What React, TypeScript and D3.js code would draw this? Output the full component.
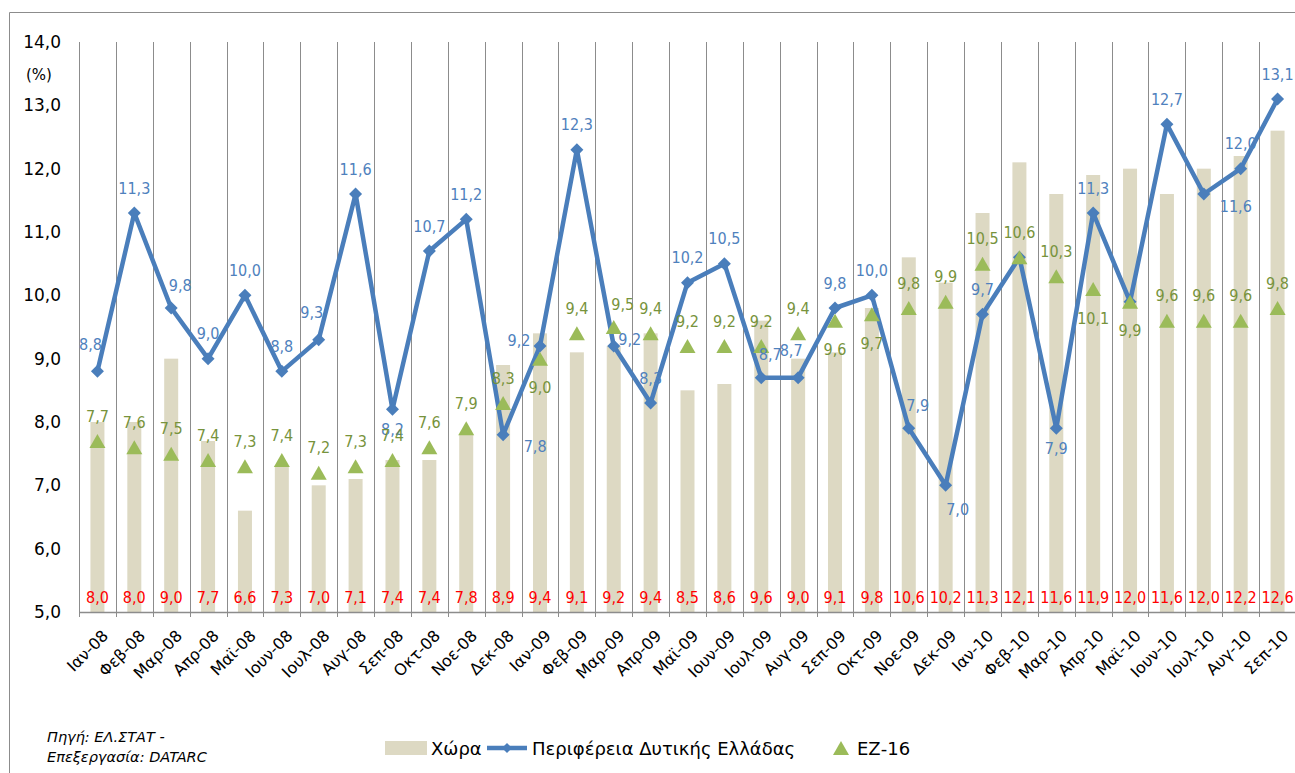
import React from "react";
import * as d3 from "d3";

const months = [
  "Ιαν-08", "Φεβ-08", "Μαρ-08", "Απρ-08", "Μαϊ-08", "Ιουν-08", "Ιουλ-08", "Αυγ-08", "Σεπ-08", "Οκτ-08", "Νοε-08", "Δεκ-08",
  "Ιαν-09", "Φεβ-09", "Μαρ-09", "Απρ-09", "Μαϊ-09", "Ιουν-09", "Ιουλ-09", "Αυγ-09", "Σεπ-09", "Οκτ-09", "Νοε-09", "Δεκ-09",
  "Ιαν-10", "Φεβ-10", "Μαρ-10", "Απρ-10", "Μαϊ-10", "Ιουν-10", "Ιουλ-10", "Αυγ-10", "Σεπ-10",
];

// Χώρα (bars)
const countryValues = [
  8.0, 8.0, 9.0, 7.7, 6.6, 7.3, 7.0, 7.1, 7.4, 7.4, 7.8, 8.9,
  9.4, 9.1, 9.2, 9.4, 8.5, 8.6, 9.6, 9.0, 9.1, 9.8, 10.6, 10.2,
  11.3, 12.1, 11.6, 11.9, 12.0, 11.6, 12.0, 12.2, 12.6,
];

// Περιφέρεια Δυτικής Ελλάδας (line)
const regionValues = [
  8.8, 11.3, 9.8, 9.0, 10.0, 8.8, 9.3, 11.6, 8.2, 10.7, 11.2, 7.8,
  9.2, 12.3, 9.2, 8.3, 10.2, 10.5, 8.7, 8.7, 9.8, 10.0, 7.9, 7.0,
  9.7, 10.6, 7.9, 11.3, 9.9, 12.7, 11.6, 12.0, 13.1,
];

// ΕΖ-16 (triangles)
const ez16Values = [
  7.7, 7.6, 7.5, 7.4, 7.3, 7.4, 7.2, 7.3, 7.4, 7.6, 7.9, 8.3,
  9.0, 9.4, 9.5, 9.4, 9.2, 9.2, 9.2, 9.4, 9.6, 9.7, 9.8, 9.9,
  10.5, 10.6, 10.3, 10.1, 9.9, 9.6, 9.6, 9.6, 9.8,
];

const yTicks = [5, 6, 7, 8, 9, 10, 11, 12, 13, 14];

// label placement codes
const regionLabelPos = [
  "tl", "t", "tr", "t", "t", "t", "tl", "t", "b", "t", "t", "rb",
  "l", "t", "r", "t", "t", "t", "tr", "tl", "t", "t", "tr", "br",
  "t", "", "b", "t", "", "t", "rb", "t", "t",
];
const ez16LabelPos = [
  "t", "t", "t", "t", "t", "t", "t", "t", "t", "t", "t", "t",
  "bb", "t", "tr", "t", "t", "t", "t", "t", "bb", "bb", "t", "t",
  "t", "t", "t", "bb", "bb", "t", "t", "t", "t",
];

const offsets: Record<string, [number, number]> = {
  t: [0, -25],
  b: [0, 20],
  bb: [0, 29],
  tl: [-7, -27],
  tr: [9, -23],
  l: [-21, -6],
  r: [16, -7],
  br: [12, 24],
  rb: [32, 12],
};

const W = 1295;
const H = 773;
const labelFont = "'DejaVu Sans Condensed', 'DejaVu Sans', sans-serif";
const axisFont = "'DejaVu Sans', Verdana, sans-serif";

const fmt = (v: number) => v.toFixed(1).replace(".", ",");

export default function App() {
  const x = d3.scaleBand<string>().domain(months).range([79, 1296]).padding(0);
  const y = d3.scaleLinear().domain([5, 14]).range([612, 42]);
  const bw = x.bandwidth();
  const cx = (i: number) => (x(months[i]) as number) + bw / 2;
  const barW = 14;

  const line = d3
    .line<number>()
    .x((_, i) => cx(i))
    .y((d) => y(d));

  const diamond = (s: number) => `M0,${-s}L${s},0L0,${s}L${-s},0Z`;
  const triangle = "M0,-7L8,7L-8,7Z";

  const boundaries = months.map((m) => x(m) as number).concat([1296]);

  return (
    <svg
      width={W}
      height={H}
      style={{ position: "absolute", left: 0, top: 0, background: "#fff" }}
    >
      {/* frame */}
      <line x1={9.5} y1={12.5} x2={W} y2={12.5} stroke="#8c8c8c" strokeWidth={1} />
      <line x1={9.5} y1={12.5} x2={9.5} y2={H} stroke="#8c8c8c" strokeWidth={1} />

      {/* vertical gridlines */}
      {boundaries.map((b, i) => (
        <line
          key={"g" + i}
          x1={Math.round(b) + 0.5}
          x2={Math.round(b) + 0.5}
          y1={y(14)}
          y2={y(5) + 5}
          stroke="#8c8c8c"
          strokeWidth={1}
        />
      ))}

      {/* bars */}
      {countryValues.map((v, i) => (
        <rect
          key={"b" + i}
          x={cx(i) - barW / 2}
          y={y(v)}
          width={barW}
          height={y(5) - y(v)}
          fill="#ddd9c3"
        />
      ))}

      {/* x axis */}
      <line x1={79} x2={1296} y1={y(5) + 0.5} y2={y(5) + 0.5} stroke="#8c8c8c" strokeWidth={1.5} />

      {/* y tick labels */}
      {yTicks.map((t) => (
        <text
          key={"y" + t}
          x={61}
          y={y(t)}
          textAnchor="end"
          dominantBaseline="central"
          fontFamily={axisFont}
          fontSize={17}
          fill="#000"
        >
          {fmt(t)}
        </text>
      ))}
      <text x={39} y={75} textAnchor="middle" dominantBaseline="central" fontFamily={axisFont} fontSize={15} fill="#000">
        (%)
      </text>

      {/* x tick labels */}
      {months.map((m, i) => (
        <text
          key={"x" + i}
          transform={`translate(${cx(i) + 8},${y(5) + 21}) rotate(-45)`}
          textAnchor="end"
          dominantBaseline="central"
          fontFamily={axisFont}
          fontSize={16}
          fill="#000"
        >
          {m}
        </text>
      ))}

      {/* bar value labels */}
      {countryValues.map((v, i) => (
        <text
          key={"bl" + i}
          x={cx(i)}
          y={597}
          textAnchor="middle"
          dominantBaseline="central"
          fontFamily={labelFont}
          fontSize={16}
          fill="#ff0000"
        >
          {fmt(v)}
        </text>
      ))}

      {/* line */}
      <path d={line(regionValues) || ""} fill="none" stroke="#4a7ebb" strokeWidth={4.5} strokeLinejoin="round" />
      {regionValues.map((v, i) => (
        <path key={"d" + i} d={diamond(6.5)} transform={`translate(${cx(i)},${y(v)})`} fill="#4a7ebb" />
      ))}

      {/* triangles */}
      {ez16Values.map((v, i) => (
        <path key={"t" + i} d={triangle} transform={`translate(${cx(i)},${y(v)})`} fill="#9bbb59" />
      ))}

      {/* region labels */}
      {regionValues.map((v, i) => {
        const code = regionLabelPos[i];
        if (!code) return null;
        const [dx, dy] = offsets[code];
        return (
          <text
            key={"rl" + i}
            x={cx(i) + dx}
            y={y(v) + dy}
            textAnchor="middle"
            dominantBaseline="central"
            fontFamily={labelFont}
            fontSize={16}
            fill="#4f81bd"
          >
            {fmt(v)}
          </text>
        );
      })}

      {/* ez16 labels */}
      {ez16Values.map((v, i) => {
        const code = ez16LabelPos[i];
        if (!code) return null;
        const [dx, dy] = offsets[code];
        return (
          <text
            key={"el" + i}
            x={cx(i) + dx}
            y={y(v) + dy}
            textAnchor="middle"
            dominantBaseline="central"
            fontFamily={labelFont}
            fontSize={16}
            fill="#77933c"
          >
            {fmt(v)}
          </text>
        );
      })}

      {/* source */}
      <text x={47} y={737} dominantBaseline="central" fontFamily={axisFont} fontStyle="italic" fontSize={14.5} fill="#000">
        Πηγή: ΕΛ.ΣΤΑΤ -
      </text>
      <text x={47} y={757} dominantBaseline="central" fontFamily={axisFont} fontStyle="italic" fontSize={14.5} fill="#000">
        Επεξεργασία: DATARC
      </text>

      {/* legend */}
      <rect x={385} y={741} width={42} height={14} fill="#ddd9c3" />
      <text x={431} y={748} dominantBaseline="central" fontFamily={axisFont} fontSize={18} fill="#000">
        Χώρα
      </text>
      <line x1={487} x2={527} y1={748} y2={748} stroke="#4a7ebb" strokeWidth={4.5} />
      <path d={diamond(5)} transform="translate(507,748)" fill="#4a7ebb" />
      <text x={532} y={748} dominantBaseline="central" fontFamily={axisFont} fontSize={18} fill="#000">
        Περιφέρεια Δυτικής Ελλάδας
      </text>
      <path d={triangle} transform="translate(841,748)" fill="#9bbb59" />
      <text x={857} y={748} dominantBaseline="central" fontFamily={axisFont} fontSize={18} fill="#000">
        ΕΖ-16
      </text>
    </svg>
  );
}
